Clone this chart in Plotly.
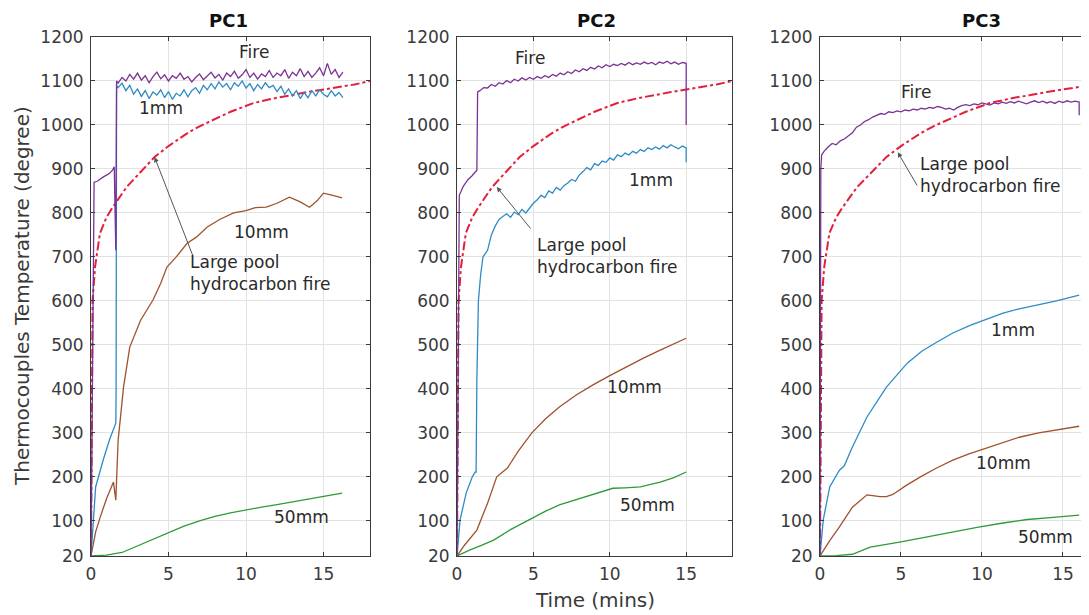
import plotly.graph_objects as go

# ---------------- DATA ----------------
panels = ["PC1", "PC2", "PC3"]
x_max = [18, 18, 17.1]

# Large pool hydrocarbon fire curve (same in all panels)
hc_t = [0, 0.05, 0.1, 0.26, 0.58, 1.0, 1.4, 2.3, 3, 4.1, 5, 6.2, 7, 8.3, 9, 10.5, 12, 13, 14, 15.6, 17, 18]
hc_T = [20, 350, 600, 677, 754, 790, 813, 859, 885, 927, 952, 981, 997, 1018, 1030, 1050, 1062, 1068, 1075, 1084, 1092, 1100]

noisy_t1 = [1.75, 2.0, 2.25, 2.5, 2.75, 3.0, 3.25, 3.5, 3.75, 4.0, 4.25, 4.5, 4.75, 5.0, 5.25, 5.5, 5.75,
            6.0, 6.25, 6.5, 6.75, 7.0, 7.25, 7.5, 7.75, 8.0, 8.25, 8.5, 8.75, 9.0, 9.25, 9.5, 9.75, 10.0,
            10.25, 10.5, 10.75, 11.0, 11.25, 11.5, 11.75, 12.0, 12.25, 12.5, 12.75, 13.0, 13.25, 13.5,
            13.75, 14.0, 14.25, 14.5, 14.75, 15.0, 15.25, 15.5, 15.75, 16.0, 16.25]

# PC1
pc1_fire_t = [0, 0.15, 0.2, 0.4, 0.6, 0.8, 1.0, 1.2, 1.4, 1.5, 1.6, 1.65] + noisy_t1
pc1_fire_T = [20, 850, 870, 872, 878, 882, 886, 890, 898, 905, 715, 1100,
              1095, 1108, 1100, 1115, 1104, 1118, 1102, 1112, 1096, 1110, 1120, 1105, 1114, 1100, 1112, 1106,
              1118, 1104, 1110, 1098, 1108, 1116, 1103, 1112, 1120, 1107, 1115, 1102, 1118, 1110, 1122, 1106,
              1114, 1126, 1108, 1118, 1104, 1116, 1110, 1124, 1108, 1118, 1112, 1126, 1106, 1120, 1112, 1128,
              1110, 1122, 1108, 1118, 1130, 1112, 1140, 1115, 1126, 1108, 1120]
pc1_1mm_t = [0, 0.3, 0.8, 1.2, 1.6, 1.62, 1.65] + noisy_t1
pc1_1mm_T = [20, 177, 240, 285, 322, 400, 1090,
             1085, 1095, 1078, 1090, 1070, 1082, 1065, 1078, 1060, 1075, 1068, 1080, 1062, 1076, 1058, 1072,
             1066, 1080, 1064, 1078, 1085, 1072, 1090, 1080, 1094, 1082, 1098, 1086, 1094, 1080, 1096, 1088,
             1100, 1084, 1094, 1078, 1092, 1082, 1096, 1085, 1090, 1076, 1088, 1070, 1082, 1066, 1078, 1060,
             1074, 1062, 1078, 1066, 1080, 1070, 1064, 1078, 1066, 1074, 1062]
pc1_10mm_t = [0, 0.3, 0.6, 1.0, 1.45, 1.6, 1.75, 2.1, 2.5, 3.2, 4.0, 4.5, 4.9, 5.5, 6.2, 6.8, 7.5, 8.3,
              9.2, 10.0, 10.6, 11.3, 12.0, 12.8, 13.5, 14.1, 14.6, 15.0, 15.6, 16.2]
pc1_10mm_T = [20, 75, 109, 150, 188, 147, 283, 404, 495, 556, 602, 640, 677, 700, 731, 745, 768, 785,
              800, 805, 812, 813, 822, 836, 825, 813, 828, 845, 840, 834]
pc1_50mm_t = [0, 1, 2, 2.8, 4, 4.9, 6, 7, 8, 9, 10, 11, 12, 13, 14, 15, 16.2]
pc1_50mm_T = [20, 22, 28, 40, 57, 72, 88, 100, 110, 118, 125, 131, 137, 143, 150, 156, 163]

# PC2
noisy_t2 = [1.5, 1.75, 2.0, 2.25, 2.5, 2.75, 3.0, 3.25, 3.5, 3.75, 4.0, 4.25, 4.5, 4.75, 5.0, 5.25, 5.5,
            5.75, 6.0, 6.25, 6.5, 6.75, 7.0, 7.25, 7.5, 7.75, 8.0, 8.25, 8.5, 8.75, 9.0, 9.25, 9.5, 9.75,
            10.0, 10.25, 10.5, 10.75, 11.0, 11.25, 11.5, 11.75, 12.0, 12.25, 12.5, 12.75, 13.0, 13.25,
            13.5, 13.75, 14.0, 14.25, 14.5, 14.75, 15.0]
pc2_fire_t = [0, 0.1, 0.15, 0.4, 0.7, 1.0, 1.3, 1.35] + noisy_t2 + [15.0]
pc2_fire_T = [20, 700, 840, 860, 875, 885, 897, 1075,
              1078, 1085, 1084, 1092, 1088, 1096, 1093, 1101, 1096, 1104, 1100, 1107, 1102, 1108, 1104,
              1110, 1106, 1112, 1108, 1115, 1111, 1118, 1114, 1121, 1117, 1125, 1121, 1128, 1124, 1131,
              1127, 1134, 1130, 1137, 1133, 1138, 1135, 1140, 1136, 1142, 1137, 1141, 1138, 1143, 1139,
              1142, 1137, 1143, 1140, 1145, 1139, 1143, 1138, 1142, 1140, 1000]
pc2_1mm_t = [0, 0.2, 0.6, 1.0, 1.2, 1.25, 1.3, 1.4, 1.55, 1.7] + noisy_t2[2:] + [15.0]
pc2_1mm_T = [20, 102, 163, 200, 211, 211, 420, 600, 660, 700,
             715, 750, 770, 785, 792, 798, 790, 802, 796, 808, 800, 812, 822, 830, 840, 835, 850, 845,
             858, 852, 862, 868, 876, 872, 886, 894, 903, 898, 912, 908, 918, 915, 925, 920, 932, 928,
             936, 932, 940, 936, 944, 940, 948, 944, 950, 945, 953, 948, 955, 950, 946, 952, 948, 915]
pc2_10mm_t = [0, 0.5, 1.3, 2.0, 2.6, 3.3, 4.0, 4.9, 5.8, 6.7, 7.8, 8.9, 10.0, 11.1, 12.2, 13.3, 14.2, 15.0]
pc2_10mm_T = [20, 45, 79, 140, 200, 220, 258, 300, 332, 359, 386, 409, 430, 450, 470, 488, 502, 515]
pc2_50mm_t = [0, 0.85, 1.6, 2.4, 3.5, 4.9, 5.8, 6.7, 7.8, 8.9, 10.2, 11.0, 12.0, 13.3, 14.2, 15.0]
pc2_50mm_T = [20, 34, 44, 56, 80, 106, 122, 136, 148, 159, 174, 175, 177, 188, 198, 211]

# PC3
pc3_fire_t = [0, 0.05, 0.1, 0.25, 0.5, 0.75, 1.0, 1.25, 1.5, 1.75, 2.0, 2.25, 2.5, 2.75, 3.0, 3.25, 3.5,
              3.75, 4.0, 4.25, 4.5, 4.75, 5.0, 5.25, 5.5, 5.75, 6.0, 6.25, 6.5, 6.75, 7.0, 7.25, 7.5,
              7.75, 8.0, 8.25, 8.5, 8.75, 9.0, 9.25, 9.5, 9.75, 10.0, 10.25, 10.5, 10.75, 11.0, 11.25,
              11.5, 11.75, 12.0, 12.25, 12.5, 12.75, 13.0, 13.25, 13.5, 13.75, 14.0, 14.25, 14.5, 14.75,
              15.0, 15.25, 15.5, 15.75, 16.0, 16.0]
pc3_fire_T = [20, 900, 932, 940, 950, 958, 955, 964, 968, 975, 982, 995, 1000, 1008, 1012, 1018, 1022,
              1026, 1024, 1030, 1028, 1032, 1030, 1034, 1032, 1036, 1034, 1038, 1036, 1040, 1038, 1042,
              1040, 1036, 1038, 1034, 1040, 1044, 1046, 1044, 1048, 1046, 1050, 1048, 1045, 1050, 1048,
              1052, 1049, 1053, 1050, 1054, 1051, 1048, 1052, 1055, 1051, 1054, 1050, 1053, 1049, 1054,
              1051, 1055, 1052, 1054, 1052, 1022]
pc3_1mm_t = [0, 0.2, 0.6, 1.2, 1.5, 2.0, 2.9, 4.1, 5.4, 6.3, 7.2, 8.2, 9.3, 10.3, 11.3, 12.3, 13.4, 14.6, 16.0]
pc3_1mm_T = [20, 102, 177, 215, 225, 268, 336, 404, 459, 486, 506, 527, 545, 559, 572, 582, 590, 600, 613]
pc3_10mm_t = [0, 0.6, 1.2, 2.0, 2.9, 3.3, 3.7, 4.1, 4.5, 5.3, 6.2, 7.2, 8.2, 9.2, 10.3, 11.3, 12.3, 13.5, 14.8, 16.0]
pc3_10mm_T = [20, 55, 86, 131, 159, 157, 155, 155, 160, 180, 200, 220, 238, 252, 265, 278, 290, 300, 308, 315]
pc3_50mm_t = [0, 1, 2, 3.1, 5, 6.5, 8.2, 9.7, 11.3, 12.8, 14.4, 16.0]
pc3_50mm_T = [20, 21, 24, 40, 52, 63, 75, 85, 95, 103, 108, 113]

series = [
    dict(fire=(pc1_fire_t, pc1_fire_T), mm1=(pc1_1mm_t, pc1_1mm_T), mm10=(pc1_10mm_t, pc1_10mm_T), mm50=(pc1_50mm_t, pc1_50mm_T)),
    dict(fire=(pc2_fire_t, pc2_fire_T), mm1=(pc2_1mm_t, pc2_1mm_T), mm10=(pc2_10mm_t, pc2_10mm_T), mm50=(pc2_50mm_t, pc2_50mm_T)),
    dict(fire=(pc3_fire_t, pc3_fire_T), mm1=(pc3_1mm_t, pc3_1mm_T), mm10=(pc3_10mm_t, pc3_10mm_T), mm50=(pc3_50mm_t, pc3_50mm_T)),
]

# text labels: (label, t, T)
labels = [
    [("Fire", 10.5, 1165), ("1mm", 4.5, 1038), ("10mm", 11.0, 756), ("50mm", 13.6, 108)],
    [("Fire", 4.8, 1152), ("1mm", 12.7, 875), ("10mm", 11.6, 404), ("50mm", 12.5, 136)],
    [("Fire", 5.9, 1075), ("1mm", 11.9, 534), ("10mm", 11.3, 231), ("50mm", 13.9, 63)],
]
# hydrocarbon label: text position (t, T), arrow tip (t, T), arrow tail (t, T)
hc_label = [
    ((6.26, 663), (4.1, 927), (6.6, 700)),
    ((5.1, 702), (2.6, 859), (4.9, 761)),
    ((6.05, 886), (4.8, 938), (6.05, 859)),
]

y_ticks = [20, 100, 200, 300, 400, 500, 600, 700, 800, 900, 1000, 1100, 1200]
x_ticks = [0, 5, 10, 15]

# ---------------- STYLE ----------------
W, H = 1089, 615
OFF = 8  # page body margin
x_dom_px = [(91, 370), (457, 732), (820, 1097)]
title_x_px = [228, 596, 981]
y_dom_px = (37, 556)
col_fire = "#7B3294"
col_1mm = "#2E8BC6"
col_10mm = "#A0522D"
col_50mm = "#2E9A3A"
col_hc = "#E3203A"
FONT = "DejaVu Sans, Liberation Sans, sans-serif"
TXT = "#2a2a2a"


def px_x(p):
    return (p - OFF) / W


def px_y(p):
    return 1 - (p - OFF) / H


fig = go.Figure()
layout = {}
annotations = []
ydom = [px_y(y_dom_px[1]), px_y(y_dom_px[0])]
for i in range(3):
    sfx = "" if i == 0 else str(i + 1)
    xa, ya = "x" + sfx, "y" + sfx
    s = series[i]
    fig.add_trace(go.Scatter(x=hc_t, y=hc_T, mode="lines", xaxis=xa, yaxis=ya,
                             line=dict(color=col_hc, width=2, dash="dashdot"), showlegend=False))
    for key, col in (("mm50", col_50mm), ("mm10", col_10mm), ("mm1", col_1mm), ("fire", col_fire)):
        t, T = s[key]
        fig.add_trace(go.Scatter(x=t, y=T, mode="lines", xaxis=xa, yaxis=ya,
                                 line=dict(color=col, width=1.3), showlegend=False))
    x0, x1 = x_dom_px[i]
    axcommon = dict(showline=True, linecolor="#3a3a3a", linewidth=1, mirror="ticks",
                    ticks="inside", ticklen=4, tickcolor="#3a3a3a", ticklabelstandoff=3,
                    showgrid=True, gridcolor="#e3e3e3", gridwidth=1, zeroline=False,
                    tickfont=dict(family=FONT, size=17, color="#3a3a3a"), automargin=False)
    layout["xaxis" + sfx] = dict(domain=[px_x(x0), min(1.0, px_x(x1))], range=[0, x_max[i]], anchor=ya,
                                 tickvals=x_ticks, **axcommon)
    layout["yaxis" + sfx] = dict(domain=ydom, range=[20, 1200], anchor=xa,
                                 tickvals=y_ticks, **axcommon)
    # title
    annotations.append(dict(text="<b>" + panels[i] + "</b>", x=px_x(title_x_px[i]),
                            y=px_y(21), xref="paper", yref="paper", xanchor="center",
                            yanchor="middle", showarrow=False,
                            font=dict(family=FONT, size=18, color="#111111")))
    for (txt, t, T) in labels[i]:
        annotations.append(dict(text=txt, x=t, y=T, xref=xa, yref=ya, showarrow=False,
                                xanchor="center", yanchor="middle",
                                font=dict(family=FONT, size=17, color=TXT)))
    (tx, tT), (hx, hT), (ax_, ay_) = hc_label[i]
    annotations.append(dict(text="Large pool<br>hydrocarbon fire", x=tx, y=tT, xref=xa, yref=ya,
                            xanchor="left", yanchor="middle", align="left", showarrow=False,
                            font=dict(family=FONT, size=17, color=TXT)))
    annotations.append(dict(text="", x=hx, y=hT, ax=ax_, ay=ay_, xref=xa, yref=ya,
                            axref=xa, ayref=ya, showarrow=True, arrowhead=2, arrowsize=1,
                            arrowwidth=1, arrowcolor="#555555", standoff=0, startstandoff=0))

annotations.append(dict(text="Thermocouples Temperature (degree)", x=px_x(22), y=px_y(296),
                        xref="paper", yref="paper", textangle=-90, showarrow=False,
                        xanchor="center", yanchor="middle",
                        font=dict(family=FONT, size=20, color="#3a3a3a")))
annotations.append(dict(text="Time (mins)", x=px_x(595), y=px_y(600), xref="paper", yref="paper",
                        xanchor="center", yanchor="middle",
                        showarrow=False, font=dict(family=FONT, size=20, color="#3a3a3a")))

fig.update_layout(**layout)
fig.update_layout(width=W, height=H, margin=dict(l=0, r=0, t=0, b=0),
                  paper_bgcolor="white", plot_bgcolor="white", template="none",
                  annotations=annotations, showlegend=False)
fig.write_html("out.html")
